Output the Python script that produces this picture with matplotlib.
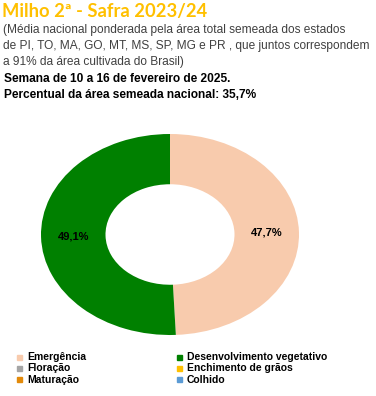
import matplotlib
matplotlib.use("Agg")
from matplotlib import pyplot as plt
from matplotlib.patches import Rectangle

W, H = 376, 396

title = "Milho 2ª - Safra 2023/24"
subtitle = [
    "(Média nacional ponderada pela área total semeada dos estados",
    "de PI, TO, MA, GO, MT, MS, SP, MG e PR , que juntos correspondem",
    "a 91% da área cultivada do Brasil)",
]
week_lines = [
    "Semana de 10 a 16 de fevereiro de 2025.",
    "Percentual da área semeada nacional: 35,7%",
]

stages = ["Emergência", "Desenvolvimento vegetativo", "Floração",
          "Enchimento de grãos", "Maturação", "Colhido"]
values = [47.7, 49.1, 0, 0, 0, 0]
colors = ["#F8CBAD", "#008000", "#A5A5A5", "#FFC000", "#E38A0A", "#5B9BD5"]


def fx(x):
    return x / W


def fy(y):
    return 1 - y / H


fig = plt.figure(figsize=(W / 100, H / 100), dpi=100)

fig.text(fx(2), fy(12), title, fontsize=13.2, fontweight="bold",
         color="#FFC000", family="Lato", va="center")
for i, line in enumerate(subtitle):
    fig.text(fx(3), fy(30.5 + i * 15.5), line, fontsize=8.6, color="#404040",
             family="Liberation Sans", va="center")
for i, line in enumerate(week_lines):
    fig.text(fx(4), fy(78.5 + i * 16.5), line, fontsize=8.6, fontweight="bold",
             color="black", family="Liberation Sans", va="center")

# elliptical donut
ax = fig.add_axes([fx(41), fy(335), 258 / W, 201 / H])
vals_iter = iter(values)


def fmt(pct):
    v = next(vals_iter)
    return f"{v:.1f}%".replace(".", ",") if v > 0 else ""


wedges, _, autotexts = ax.pie(values, colors=colors, startangle=90,
                              counterclock=False, autopct=fmt,
                              pctdistance=0.75,
                              wedgeprops=dict(width=0.5, linewidth=0))
for t in autotexts:
    t.set_fontsize(8)
    t.set_fontweight("bold")
    t.set_family("Liberation Sans")
ax.set_aspect("auto")
ax.set_xlim(-1, 1)
ax.set_ylim(-1, 1)

# legend
for i, (name, c) in enumerate(zip(stages, colors)):
    col, row = i % 2, i // 2
    x0 = 17 if col == 0 else 177
    y0 = 357 + row * 11.3
    fig.patches.append(Rectangle((fx(x0), fy(y0 + 2.5)), 5 / W, 5 / H,
                                 color=c, transform=fig.transFigure))
    fig.text(fx(x0 + 10), fy(y0), name, fontsize=7.5, fontweight="bold",
             family="Liberation Sans", va="center")

fig.savefig("out.png", dpi=100)
